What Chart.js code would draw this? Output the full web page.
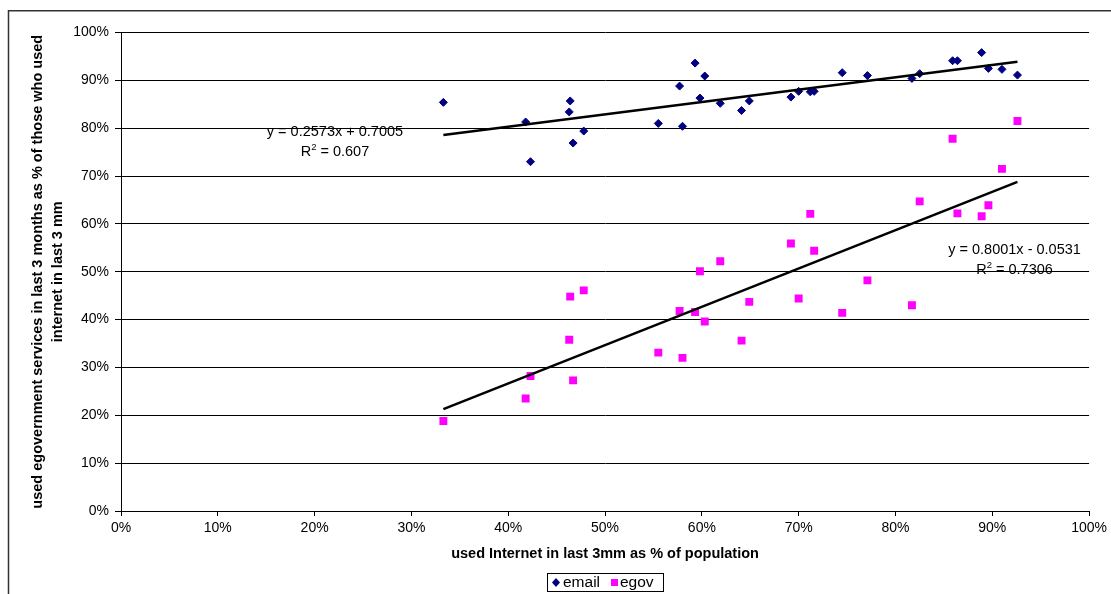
<!DOCTYPE html>
<html>
<head>
<meta charset="utf-8">
<script src="https://cdn.jsdelivr.net/npm/chart.js@4"></script>
<style>
html,body{margin:0;padding:0;background:#fff;}
#wrap{position:relative;width:1111px;height:594px;overflow:hidden;}
</style>
</head>
<body>
<div id="wrap"><canvas id="c" width="1111" height="594"></canvas></div>
<script>
// ---- data (percent) ----
const internetUse = [33.3,41.8,42.3,46.4,46.3,46.7,47.8,55.5,57.7,58.0,59.3,59.8,60.3,61.9,64.1,64.9,69.2,70.0,71.2,71.6,74.5,77.1,81.7,82.5,85.9,86.4,88.9,89.6,91.0,92.6];
const emailUse   = [85.4,81.3,73.0,85.7,83.4,76.9,79.4,81.0,88.8,80.4,93.6,86.3,90.9,85.2,83.7,85.7,86.5,87.7,87.6,87.7,91.6,91.0,90.4,91.4,94.1,94.1,95.8,92.5,92.3,91.1];
const egovUse    = [18.8,23.5,28.2,44.8,35.8,27.3,46.1,33.1,41.8,32.0,41.6,50.1,39.6,52.2,35.6,43.7,55.9,44.4,62.1,54.4,41.4,48.2,43.0,64.7,77.8,62.2,61.6,63.9,71.5,81.5];
const trendX      = [33.3, 92.6];
const emailTrendY = [78.6, 93.9];
const egovTrendY  = [21.3, 68.8];
const emailEquation = 'y = 0.2573x + 0.7005';
const emailR2 = '0.607';
const egovEquation = 'y = 0.8001x - 0.0531';
const egovR2 = '0.7306';
const seriesNames = ['email', 'egov'];
const xTicks = [0,10,20,30,40,50,60,70,80,90,100];
const yTicks = [0,10,20,30,40,50,60,70,80,90,100];
const xTitle = 'used Internet in last 3mm as % of population';
const yTitle = ['used egovernment services in last 3 months as % of those who used', 'internet in last 3 mm'];

const FONT = "'Liberation Sans', Arial, sans-serif";
const EMAIL_COLOR = '#000080';
const EGOV_COLOR = '#FF00FF';

const pts = ys => internetUse.map((x, i) => ({x: x, y: ys[i]}));
const trendPts = ys => trendX.map((x, i) => ({x: x, y: ys[i]}));

function drawEq(ctx, cx, cy, eq, r2) {
  ctx.fillStyle = '#000';
  ctx.font = '14.5px ' + FONT;
  ctx.textBaseline = 'middle';
  ctx.textAlign = 'center';
  ctx.fillText(eq, cx, cy);
  const y2 = cy + 20;
  const big = '14.5px ' + FONT, small = '9.5px ' + FONT;
  ctx.font = big; const wR = ctx.measureText('R').width; const wRest = ctx.measureText(' = ' + r2).width;
  ctx.font = small; const w2 = ctx.measureText('2').width;
  let x = cx - (wR + w2 + wRest) / 2;
  ctx.textAlign = 'left';
  ctx.font = big; ctx.fillText('R', x, y2); x += wR;
  ctx.font = small; ctx.fillText('2', x, y2 - 5); x += w2;
  ctx.font = big; ctx.fillText(' = ' + r2, x, y2);
}

const decor = {
  id: 'decor',
  afterDraw(chart, args, opts) {
    const ctx = chart.ctx;
    const xs = chart.scales.x, ys = chart.scales.y;
    ctx.save();
    // outer frame
    ctx.strokeStyle = '#333';
    ctx.lineWidth = 1.5;
    ctx.beginPath();
    ctx.moveTo(8.5, 700); ctx.lineTo(8.5, 10.75); ctx.lineTo(1200, 10.75);
    ctx.stroke();
    // trendline equations
    drawEq(ctx, xs.getPixelForValue(opts.emailLabel[0]), ys.getPixelForValue(opts.emailLabel[1]), emailEquation, emailR2);
    drawEq(ctx, xs.getPixelForValue(opts.egovLabel[0]), ys.getPixelForValue(opts.egovLabel[1]), egovEquation, egovR2);
    // legend
    ctx.strokeStyle = '#000';
    ctx.lineWidth = 1;
    ctx.strokeRect(547.5, 573.5, 116, 18);
    ctx.fillStyle = EMAIL_COLOR;
    ctx.beginPath();
    ctx.moveTo(556, 578); ctx.lineTo(560, 582.5); ctx.lineTo(556, 587); ctx.lineTo(552, 582.5); ctx.closePath();
    ctx.fill();
    ctx.fillStyle = EGOV_COLOR;
    ctx.fillRect(611, 579, 7, 7);
    ctx.fillStyle = '#000';
    ctx.font = '15.5px ' + FONT;
    ctx.textAlign = 'left';
    ctx.textBaseline = 'middle';
    ctx.fillText(seriesNames[0], 563, 583);
    ctx.fillText(seriesNames[1], 620, 583);
    ctx.restore();
  }
};

new Chart(document.getElementById('c'), {
  type: 'scatter',
  data: {
    datasets: [
      {label: seriesNames[0], data: pts(emailUse), pointStyle: 'rectRot', pointRadius: 4, pointHoverRadius: 4,
       backgroundColor: EMAIL_COLOR, borderColor: EMAIL_COLOR, borderWidth: 1, order: 2},
      {label: seriesNames[1], data: pts(egovUse), pointStyle: 'rect', pointRadius: 5.6, pointHoverRadius: 5.6,
       backgroundColor: EGOV_COLOR, borderColor: EGOV_COLOR, borderWidth: 0, order: 2},
      {label: 'email trend', data: trendPts(emailTrendY), showLine: true, pointRadius: 0, borderColor: '#000', borderWidth: 2.5, fill: false, order: 1},
      {label: 'egov trend', data: trendPts(egovTrendY), showLine: true, pointRadius: 0, borderColor: '#000', borderWidth: 2.5, fill: false, order: 1}
    ]
  },
  options: {
    responsive: false,
    animation: false,
    devicePixelRatio: 1,
    layout: {padding: {left: 0, top: 32.5, right: 20, bottom: 0}},
    plugins: {
      legend: {display: false},
      tooltip: {enabled: false},
      decor: {emailLabel: [22.1, 79.2], egovLabel: [92.3, 54.5]}
    },
    scales: {
      x: {
        type: 'linear', min: 0, max: 100,
        afterBuildTicks: s => { s.ticks = xTicks.map(v => ({value: v})); },
        ticks: {callback: v => v + '%', color: '#000', font: {family: FONT, size: 14}, padding: 4, maxRotation: 0, autoSkip: false},
        grid: {drawOnChartArea: false, drawTicks: true, tickLength: 5, color: '#000', lineWidth: 1},
        border: {color: '#000', width: 1},
        title: {display: true, text: xTitle, color: '#000', font: {family: FONT, size: 14.5, weight: 'bold'}, padding: {top: 0, bottom: 31}},
        afterFit: s => { s.height = 83; }
      },
      y: {
        type: 'linear', min: 0, max: 100,
        afterBuildTicks: s => { s.ticks = yTicks.map(v => ({value: v})); },
        ticks: {callback: v => v + '%', color: '#000', font: {family: FONT, size: 14}, padding: 6, autoSkip: false},
        grid: {drawOnChartArea: true, drawTicks: true, tickLength: 6, color: '#000', lineWidth: 1},
        border: {color: '#000', width: 1},
        title: {display: true, text: yTitle, color: '#000', font: {family: FONT, size: 14.5, weight: 'bold', lineHeight: '20px'}, padding: {top: 28, bottom: 0}},
        afterFit: s => { s.width = 121; }
      }
    }
  },
  plugins: [decor]
});
</script>
</body>
</html>
